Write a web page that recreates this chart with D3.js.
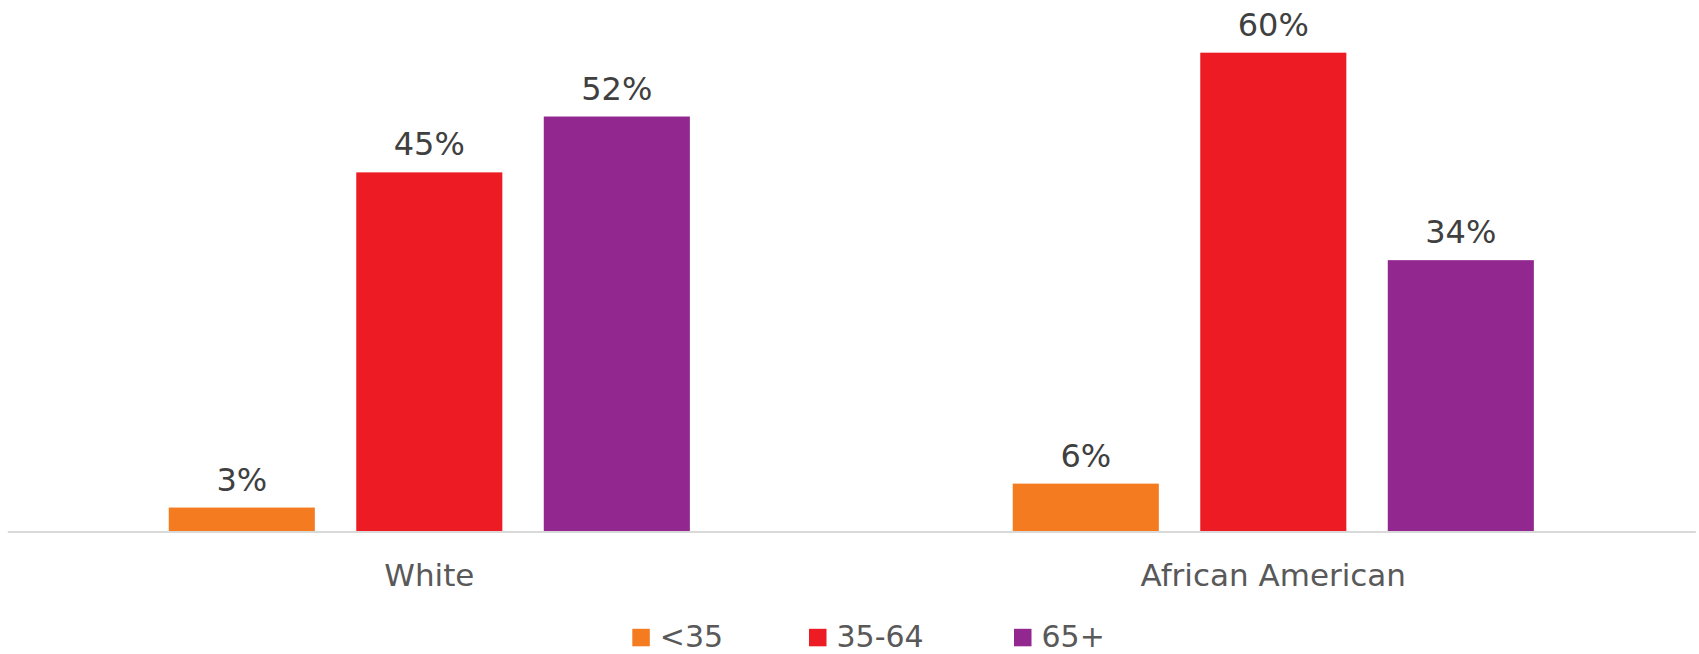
<!DOCTYPE html>
<html>
<head>
<meta charset="utf-8">
<script src="https://cdn.jsdelivr.net/npm/d3@7"></script>
<style>
  html, body { margin: 0; padding: 0; background: #fff; }
  svg { display: block; font-family: "DejaVu Sans", Verdana, sans-serif; }
</style>
</head>
<body>
<svg id="chart" width="1699" height="654"></svg>
<script>
const categories = ["White", "African American"];
const seriesNames = ["<35", "35-64", "65+"];
const seriesColors = ["#F47B20", "#ED1C24", "#92278F"];
const valuesLt35 = [3, 6];
const values35to64 = [45, 60];
const values65plus = [52, 34];
const seriesValues = [valuesLt35, values35to64, values65plus];

const svg = d3.select("#chart");
const axisY = 531.5;

const x0 = d3.scaleBand().domain(categories).range([7.3, 1695.3]).paddingInner(0).paddingOuter(0);
const x1 = d3.scaleBand().domain(seriesNames).range([0, x0.bandwidth()])
  .paddingInner(0.221).paddingOuter(0.861);
const y = d3.scaleLinear().domain([0, 66.6]).range([axisY, 0]);
const color = d3.scaleOrdinal().domain(seriesNames).range(seriesColors);

const data = [];
categories.forEach((c, ci) => {
  seriesNames.forEach((s, si) => {
    data.push({ cat: c, series: s, value: seriesValues[si][ci] });
  });
});

// bars
svg.append("g").selectAll("rect").data(data).join("rect")
  .attr("x", d => x0(d.cat) + x1(d.series))
  .attr("y", d => y(d.value))
  .attr("width", x1.bandwidth())
  .attr("height", d => y(0) - y(d.value))
  .attr("fill", d => color(d.series));

// axis line
const xAxis = d3.axisBottom(x0).tickSize(0).tickPadding(0);
const gx = svg.append("g").attr("transform", `translate(0,${axisY})`).call(xAxis);
gx.select(".domain").attr("stroke", "#d9d9d9").attr("stroke-width", 2);
gx.selectAll(".tick text")
  .attr("y", 54.5).attr("dy", 0)
  .attr("font-family", "DejaVu Sans, Verdana, sans-serif")
  .attr("font-size", 31).attr("fill", "#595959");

// value labels
svg.append("g").selectAll("text").data(data).join("text")
  .attr("x", d => x0(d.cat) + x1(d.series) + x1.bandwidth() / 2)
  .attr("y", d => y(d.value) - 17)
  .attr("text-anchor", "middle")
  .attr("font-size", 32)
  .attr("fill", "#404040")
  .text(d => d.value + "%");

// legend
const legendX = [632.3, 809, 1014];
const lg = svg.append("g");
seriesNames.forEach((s, i) => {
  lg.append("rect").attr("x", legendX[i]).attr("y", 628.8)
    .attr("width", 17.5).attr("height", 17.5).attr("fill", color(s));
  lg.append("text").attr("x", legendX[i] + 27.5).attr("y", 647)
    .attr("font-size", 30).attr("fill", "#595959").text(s);
});
</script>
</body>
</html>
